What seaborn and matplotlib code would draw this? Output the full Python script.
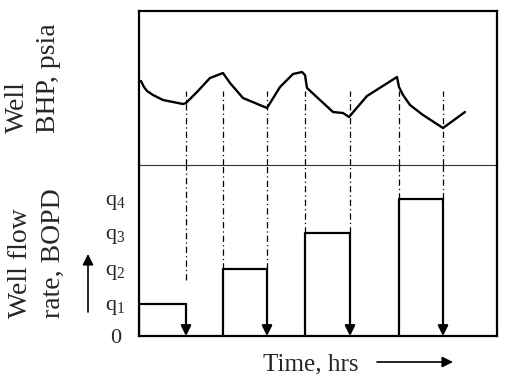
import matplotlib
matplotlib.use("Agg")
import matplotlib.pyplot as plt
import seaborn as sns
import pandas as pd
import numpy as np

sns.set_style("white")
plt.rcParams['font.family'] = ['Liberation Serif', 'DejaVu Serif']
plt.rcParams['mathtext.fontset'] = 'custom'
plt.rcParams['mathtext.rm'] = 'Liberation Serif'

# ---- data (arbitrary units) ----
bhp_time = [2, 5, 8, 14, 24, 44, 47, 58, 71, 84, 91, 104, 128, 141, 154, 163, 166, 168,
            181, 194, 204, 210, 228, 258, 260, 264, 271, 284, 304, 326]
bhp_value = [84, 78, 74, 70, 65, 61, 62, 73, 87, 92, 82, 67, 57, 78, 91, 93, 90, 77,
             65, 53, 52, 48, 69, 88, 78, 70, 60, 50, 37, 53]
rate_values = [32, 67, 103, 137]
rate_on = [0, 84, 166, 260]
rate_off = [47, 128, 211, 304]
rate_labels = ['0', r'$\mathrm{q_1}$', r'$\mathrm{q_2}$', r'$\mathrm{q_3}$', r'$\mathrm{q_4}$']
dash_times = [47, 84, 128, 166, 211, 260, 304]
dash_low = [56, 67, 67, 103, 103, 137, 137]
dash_high = 74

X_MAX = 358
TOP_MAX = 154
BOT_MAX = 171

W, H = 509, 383
fig = plt.figure(figsize=(W / 100, H / 100), dpi=100)
left, right = 139 / W, 497 / W
y_top, y_mid, y_bot = 1 - 11 / H, 1 - 165 / H, 1 - 336 / H
ax1 = fig.add_axes([left, y_mid, right - left, y_top - y_mid])
ax2 = fig.add_axes([left, y_bot, right - left, y_mid - y_bot])
ax2.patch.set_visible(False)

dashdot = (0, (5, 2.5, 1, 2.5))

# ---- top: BHP ----
bhp_df = pd.DataFrame({'t': bhp_time, 'p': bhp_value})
sns.lineplot(data=bhp_df, x='t', y='p', ax=ax1, color='black', lw=1.7,
             sort=False, estimator=None)
ax1.vlines(dash_times, 0, dash_high, colors='black', lw=0.9, linestyles=dashdot)
ax1.set_xlim(0, X_MAX)
ax1.set_ylim(0, TOP_MAX)
ax1.set_xticks([])
ax1.set_yticks([])
ax1.set_xlabel('')
ax1.set_ylabel('')

# ---- bottom: rates ----
rows = []
for i, (a, b, q) in enumerate(zip(rate_on, rate_off, rate_values)):
    rows += [dict(t=a, q=0, step=i), dict(t=a, q=q, step=i), dict(t=b, q=q, step=i)]
rate_df = pd.DataFrame(rows)
sns.lineplot(data=rate_df, x='t', y='q', units='step', estimator=None, sort=False,
             ax=ax2, color='black', lw=1.6)
for b, q in zip(rate_off, rate_values):
    ax2.annotate('', xy=(b, 0), xytext=(b, q),
                 arrowprops=dict(arrowstyle='-|>', color='black', lw=1.6,
                                 mutation_scale=15, shrinkA=0, shrinkB=0))
ax2.vlines(dash_times, dash_low, BOT_MAX, colors='black', lw=0.9, linestyles=dashdot)
ax2.set_xlim(0, X_MAX)
ax2.set_ylim(0, BOT_MAX)
ax2.set_xticks([])
ax2.set_yticks([0] + rate_values)
ax2.set_yticklabels(rate_labels, fontsize=16)
for lab in ax2.get_yticklabels():
    lab.set_horizontalalignment('center')
ax2.tick_params(axis='y', length=0, pad=17)
ax2.set_xlabel('')
ax2.set_ylabel('')

# ---- frame ----
for ax in (ax1, ax2):
    for s in ax.spines.values():
        s.set_color('black')
        s.set_linewidth(1.6)
ax1.spines['bottom'].set_linewidth(0.8)
ax1.spines['bottom'].set_color('#333333')
ax2.spines['top'].set_visible(False)

# ---- labels ----
fig.text(33 / W, 1 - 133 / H, 'Well\nBHP, psia', rotation=90, ha='center',
         va='bottom', multialignment='left', fontsize=20, linespacing=1.3)
fig.text(37 / W, 1 - 318 / H, 'Well flow\nrate, BOPD', rotation=90, ha='center',
         va='bottom', multialignment='left', fontsize=20, linespacing=1.45)
fig.text(263 / W, 1 - 364 / H, 'Time, hrs', ha='left', va='center', fontsize=18)
fig.add_artist(matplotlib.patches.FancyArrowPatch(
    (88 / W, 1 - 312 / H), (88 / W, 1 - 254 / H), transform=fig.transFigure,
    arrowstyle='-|>', mutation_scale=16, color='black', lw=1.2, shrinkA=0, shrinkB=0))
fig.add_artist(matplotlib.patches.FancyArrowPatch(
    (377 / W, 1 - 362 / H), (453 / W, 1 - 362 / H), transform=fig.transFigure,
    arrowstyle='-|>', mutation_scale=16, color='black', lw=1.2, shrinkA=0, shrinkB=0))

fig.savefig('out.png', dpi=100)
